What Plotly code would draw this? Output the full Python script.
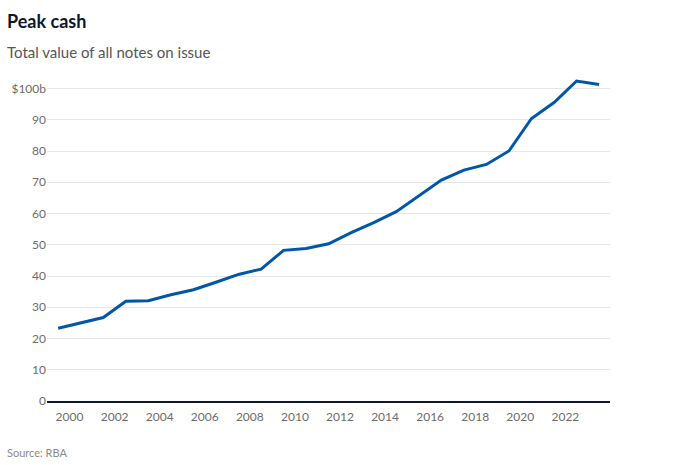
import plotly.graph_objects as go

# Data: total value of notes on issue ($b), mid-year observations
dates = [f"{y}-07-01" for y in range(1999, 2024)]
values = [23.3, 25.0, 26.7, 31.9, 32.1, 34.0, 35.6, 38.0, 40.5, 42.2,
          48.2, 48.8, 50.3, 53.9, 57.1, 60.6, 65.6, 70.7, 73.9, 75.7,
          80.0, 90.4, 95.5, 102.4, 101.3]

y_tickvals = [0, 10, 20, 30, 40, 50, 60, 70, 80, 90, 100]
y_ticktext = ["0", "10", "20", "30", "40", "50", "60", "70", "80", "90", "$100b"]

FONT = "Lato"
W, H = 679, 465
ML, MR, MT, MB = 47, 69, 76, 64

fig = go.Figure()
fig.add_trace(go.Scatter(
    x=dates, y=values, mode="lines",
    line=dict(color="#0057a8", width=3),
    hoverinfo="skip", showlegend=False,
))

fig.update_layout(
    width=W, height=H,
    margin=dict(l=ML, r=MR, t=MT, b=MB),
    paper_bgcolor="white", plot_bgcolor="white",
    font=dict(family=FONT, size=12, color="#6b6b6b"),
    xaxis=dict(
        type="date",
        range=["1999-01-01", "2023-12-25"],
        tick0="2000-01-01", dtick="M24", tickformat="%Y",
        showgrid=False, zeroline=False,
        showline=True, linecolor="#0b1733", linewidth=2,
        ticks="", ticklabelstandoff=4,
        tickfont=dict(family=FONT, size=12, color="#6b6b6b"),
        fixedrange=True,
    ),
    yaxis=dict(
        range=[0, 104],
        tickvals=y_tickvals, ticktext=y_ticktext,
        showgrid=True, gridcolor="#e6e6e6", gridwidth=1,
        zeroline=False, showline=False, ticks="",
        tickfont=dict(family=FONT, size=12, color="#6b6b6b"),
        fixedrange=True,
    ),
)

def pix_ann(text, x_px, y_px, size, color, bold=False):
    fig.add_annotation(
        text=f"<b>{text}</b>" if bold else text,
        xref="paper", yref="paper",
        x=(x_px - ML) / (W - ML - MR),
        y=1 - (y_px - MT) / (H - MT - MB),
        xanchor="left", yanchor="middle",
        showarrow=False,
        font=dict(family=FONT, size=size, color=color),
    )

pix_ann("Peak cash", 5, 21, 18, "#0b1733", bold=True)
pix_ann("Total value of all notes on issue", 5, 52, 15, "#555555")
pix_ann("Source: RBA", 5, 452, 11, "#8a8a8a")

fig.write_html("out.html", config={"displayModeBar": False},
               post_script="document.body.style.margin='0';")
